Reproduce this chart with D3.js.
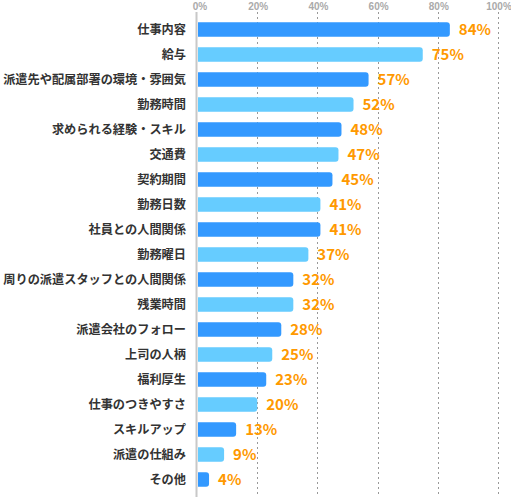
<!DOCTYPE html>
<html>
<head>
<meta charset="utf-8">
<script src="https://cdn.jsdelivr.net/npm/d3@7"></script>
<style>
  body { margin: 0; background: #fff; }
  svg { display: block; }
</style>
</head>
<body>
<svg id="bar-chart" width="511" height="497"></svg>
<script>
// categories (top to bottom) and percentages
var categories = ["仕事内容", "給与", "派遣先や配属部署の環境・雰囲気", "勤務時間", "求められる経験・スキル",
  "交通費", "契約期間", "勤務日数", "社員との人間関係", "勤務曜日", "周りの派遣スタッフとの人間関係",
  "残業時間", "派遣会社のフォロー", "上司の人柄", "福利厚生", "仕事のつきやすさ", "スキルアップ",
  "派遣の仕組み", "その他"];
var values = [84, 75, 57, 52, 48, 47, 45, 41, 41, 37, 32, 32, 28, 25, 23, 20, 13, 9, 4];
var ticks = [0, 20, 40, 60, 80, 100];

var width = 511, height = 497;
var margin = {top: 17, left: 197, right: 13};

var svg = d3.select("#bar-chart");

var x = d3.scaleLinear().domain([0, 100]).range([margin.left, width - margin.right]);
var y = d3.scaleBand().domain(categories).range([margin.top, margin.top + 25 * categories.length]).paddingInner(0.42).paddingOuter(0.21);

//Dotted grid lines
svg.append("g").selectAll("line")
   .data(ticks.slice(1))
   .enter().append("line")
   .attr("x1", function(d) { return Math.round(x(d)) + 0.5; })
   .attr("x2", function(d) { return Math.round(x(d)) + 0.5; })
   .attr("y1", 12).attr("y2", height)
   .attr("stroke", "#999")
   .attr("stroke-dasharray", "2,3");

//Tick labels
svg.append("g").selectAll("text")
   .data(ticks)
   .enter().append("text")
   .attr("x", function(d) { return x(d) + (d === 0 ? 3 : 1); })
   .attr("y", 10)
   .attr("text-anchor", "middle")
   .attr("font-family", "'Liberation Sans', Arial, sans-serif")
   .attr("font-weight", "bold")
   .attr("font-size", 10)
   .attr("fill", "#aaa")
   .text(function(d) { return d + "%"; });

//Bars with rounded right end
function barPath(d, i) {
  var x0 = x(0) + 1, x1 = x(values[i]), y0 = y(d), h = y.bandwidth(), r = 3;
  return "M" + x0 + "," + y0 + "H" + (x1 - r) + "Q" + x1 + "," + y0 + " " + x1 + "," + (y0 + r) +
         "V" + (y0 + h - r) + "Q" + x1 + "," + (y0 + h) + " " + (x1 - r) + "," + (y0 + h) + "H" + x0 + "Z";
}
svg.append("g").selectAll("path")
   .data(categories)
   .enter().append("path")
   .attr("d", barPath)
   .attr("fill", function(d, i) { return i % 2 === 0 ? "#3399ff" : "#66ccff"; });

//Axis line
svg.append("line")
   .attr("x1", x(0) - 0.5).attr("x2", x(0) - 0.5)
   .attr("y1", 12).attr("y2", height)
   .attr("stroke", "#c8c8c8")
   .attr("stroke-width", 2);

//Category labels
svg.append("g").selectAll("text")
   .data(categories)
   .enter().append("text")
   .attr("x", 186)
   .attr("y", function(d) { return y(d) + y.bandwidth() / 2; })
   .attr("dy", "0.36em")
   .attr("text-anchor", "end")
   .attr("font-family", "'Noto Sans CJK JP', sans-serif")
   .attr("font-weight", "bold")
   .attr("font-size", 12.2)
   .attr("fill", "#333")
   .text(function(d) { return d; });

//Value labels
svg.append("g").selectAll("text")
   .data(categories)
   .enter().append("text")
   .attr("x", function(d, i) { return x(values[i]) + 9; })
   .attr("y", function(d) { return y(d) + y.bandwidth() / 2; })
   .attr("dy", "0.36em")
   .attr("font-family", "'Noto Sans CJK JP', sans-serif")
   .attr("font-weight", "bold")
   .attr("font-size", 15)
   .attr("fill", "#ff9900")
   .text(function(d, i) { return values[i] + "%"; });
</script>
</body>
</html>
